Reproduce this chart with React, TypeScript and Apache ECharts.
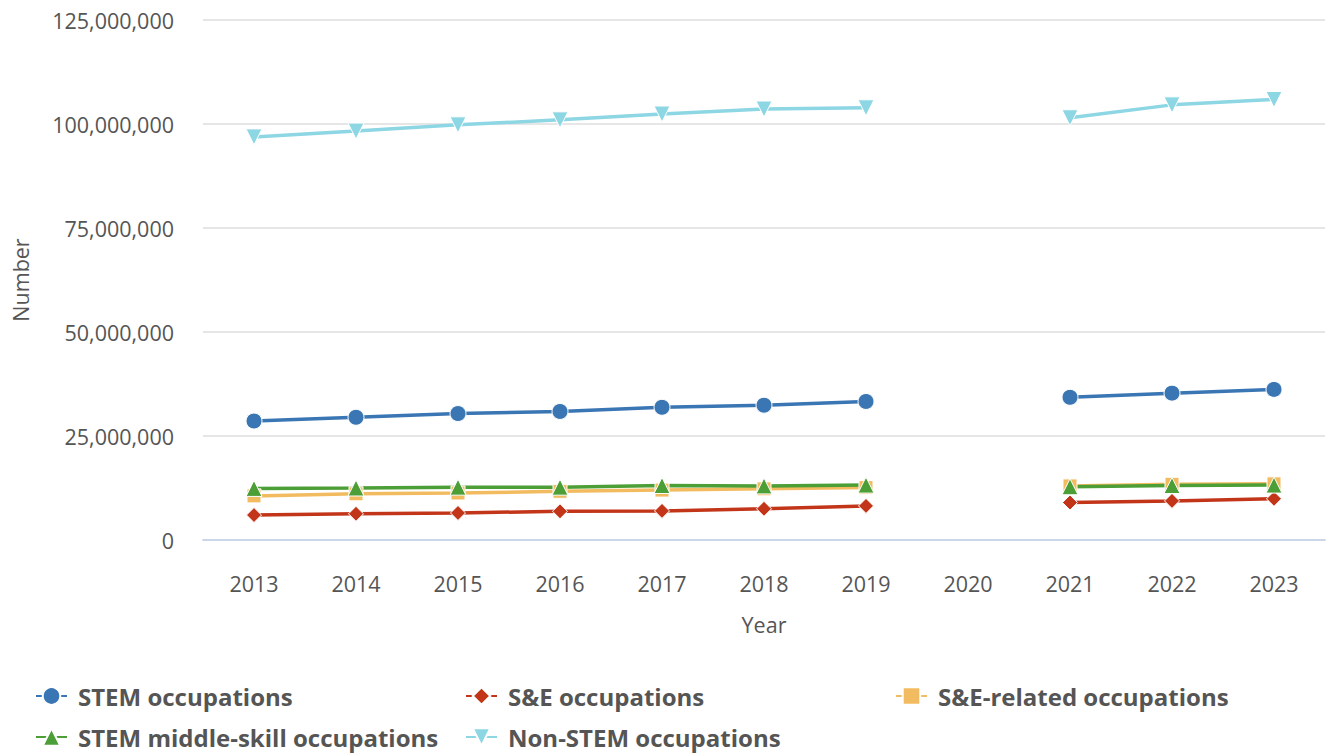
import React, { useEffect, useRef } from "react";
import * as echarts from "echarts";

const years = ["2013", "2014", "2015", "2016", "2017", "2018", "2019", "2020", "2021", "2022", "2023"];
const stem = [28.6, 29.5, 30.4, 30.9, 31.9, 32.4, 33.3, null, 34.3, 35.3, 36.2];
const se = [6.0, 6.3, 6.5, 6.9, 7.0, 7.5, 8.2, null, 9.0, 9.4, 9.9];
const seRelated = [10.6, 11.1, 11.3, 11.7, 12.0, 12.3, 12.6, null, 13.0, 13.4, 13.5];
const middleSkill = [12.4, 12.5, 12.7, 12.7, 13.1, 13.0, 13.2, null, 12.8, 13.1, 13.2];
const nonStem = [96.9, 98.3, 99.8, 101.0, 102.4, 103.6, 103.9, null, 101.5, 104.6, 105.9];
const yTicks = [0, 25000000, 50000000, 75000000, 100000000, 125000000];

const toNum = (arr: (number | null)[]) => arr.map((v) => (v == null ? null : Math.round(v * 1e6)));

const FONT = "'Open Sans', 'Noto Sans', sans-serif";
const TEXT = "#555555";

export default function App() {
  const ref = useRef<HTMLDivElement>(null);
  useEffect(() => {
    const chart = echarts.init(ref.current!, null, { renderer: "svg" });
    const mk = (name: string, data: (number | null)[], color: string, symbol: string, size: number, rotate = 0) => ({
      name,
      type: "line",
      data: toNum(data),
      symbol,
      symbolSize: size,
      symbolRotate: rotate,
      showAllSymbol: true,
      lineStyle: { color, width: 3.5 },
      itemStyle: { color, borderColor: "#ffffff", borderWidth: 1 },
      emphasis: { disabled: true },
      z: 3,
    });
    const legendPos = [
      { name: "STEM occupations", left: 35, top: 684 },
      { name: "S&E occupations", left: 465, top: 684 },
      { name: "S&E-related occupations", left: 895, top: 684 },
      { name: "STEM middle-skill occupations", left: 35, top: 725 },
      { name: "Non-STEM occupations", left: 465, top: 725 },
    ];
    chart.setOption({
      animation: false,
      backgroundColor: "#ffffff",
      grid: { left: 203, right: 2, top: 20, bottom: 215, outerBoundsMode: "none", containLabel: false },
      legend: legendPos.map((l) => ({
        data: [l.name],
        left: l.left,
        top: l.top,
        itemWidth: 31,
        itemHeight: 22,
        itemGap: 0,
        padding: 0,
        selectedMode: false,
        textStyle: { fontFamily: FONT, fontSize: 24, fontWeight: "bold", color: TEXT, padding: [0, 0, 0, 6] },
      })),
      xAxis: {
        type: "category",
        data: years,
        boundaryGap: true,
        name: "Year",
        nameLocation: "middle",
        nameGap: 73,
        nameTextStyle: { fontFamily: FONT, fontSize: 21.5, color: TEXT },
        axisLine: { lineStyle: { color: "#ccd6eb", width: 2 } },
        axisTick: { alignWithLabel: true, length: 18, lineStyle: { color: "#ccd6eb", width: 2 } },
        axisLabel: { fontFamily: FONT, fontSize: 21.5, color: TEXT, margin: 32 },
        splitLine: { show: false },
      },
      yAxis: {
        type: "value",
        min: 0,
        max: yTicks[yTicks.length - 1],
        interval: yTicks[1] - yTicks[0],
        name: "Number",
        nameLocation: "middle",
        nameGap: 172,
        nameTextStyle: { fontFamily: FONT, fontSize: 21.5, color: TEXT },
        axisLine: { show: false },
        axisTick: { show: false },
        axisLabel: {
          fontFamily: FONT,
          fontSize: 21.5,
          color: TEXT,
          margin: 29,
          formatter: (v: number) => v.toLocaleString("en-US"),
        },
        splitLine: { lineStyle: { color: "#e6e6e6", width: 2 } },
      },
      series: [
        mk("STEM occupations", stem, "#3a76b3", "circle", 16),
        mk("S&E occupations", se, "#c23519", "diamond", 15),
        mk("S&E-related occupations", seRelated, "#f2bb60", "rect", 14),
        mk("STEM middle-skill occupations", middleSkill, "#4c9e36", "triangle", 16),
        mk("Non-STEM occupations", nonStem, "#8dd6e3", "triangle", 16, 180),
      ],
    });
    return () => chart.dispose();
  }, []);
  return <div ref={ref} style={{ position: "fixed", left: 0, top: 0, width: 1327, height: 755 }} />;
}
